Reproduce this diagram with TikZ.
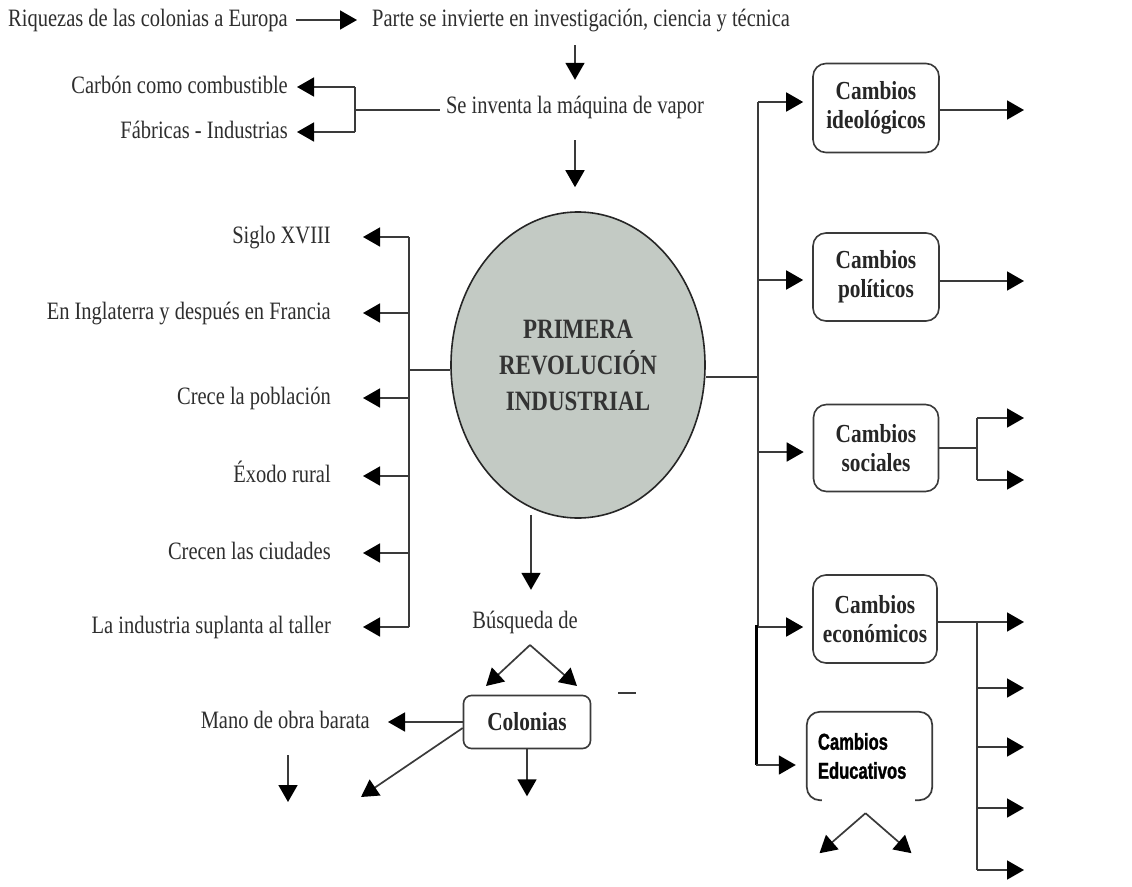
\documentclass[tikz,border=0pt]{standalone}
\usepackage{fontspec}
\setmainfont{Liberation Serif}[FakeStretch=0.82]
\newfontfamily\edufont{Liberation Sans}[FakeStretch=0.72,FakeBold=1.2]
\usetikzlibrary{arrows.meta,shapes.geometric,calc}
\definecolor{txtc}{HTML}{2E2E2E}
\definecolor{linec}{HTML}{3A3A3A}
\definecolor{ellc}{HTML}{C3CAC4}
\begin{document}
\begin{tikzpicture}[x=1pt,y=-1pt,
 txt/.style={font=\fontsize{25}{29}\selectfont, text=txtc, inner sep=0pt, text height=18pt, text depth=6pt},
 ln/.style={draw=linec, line width=1.7pt},
 arr/.style={ln, -{Triangle[length=17pt,width=19pt,fill=black,color=black]}},
 box/.style={draw=linec, line width=1.6pt, rounded corners=13pt, fill=white, align=center,
   font=\bfseries\fontsize{26}{29}\selectfont, text=black!85, inner sep=0pt},
]
\useasboundingbox (0,0) rectangle (1132,886);
\fill[white] (0,0) rectangle (1132,886);

% top
\node[txt, anchor=west] (riq) at (8,20) {Riquezas de las colonias a Europa};
\node[txt, anchor=west] (par) at (372,20) {Parte se invierte en investigación, ciencia y técnica};
\node[txt] (vap) at (575,107) {Se inventa la máquina de vapor};
\node[txt, anchor=east] (carb) at (288,87) {Carbón como combustible};
\node[txt, anchor=east] (fab) at (288,132) {Fábricas - Industrias};

\draw[arr] ([xshift=8pt]riq.east) -- ([xshift=-15pt]par.west);
\draw[arr, shorten <=13pt, shorten >=15pt] (par.south -| vap.north) -- (vap.north);

\coordinate (bk) at (355,110);
\draw[ln] ([xshift=-6pt]vap.west |- bk) -- (bk);
\draw[ln] (bk |- carb.east) -- (bk |- fab.east);
\draw[arr] (bk |- carb.east) -- ([xshift=9pt]carb.east);
\draw[arr] (bk |- fab.east) -- ([xshift=9pt]fab.east);

% central ellipse
\node[ellipse, draw=black!85, line width=1.6pt, fill=ellc, minimum width=254pt, minimum height=306pt,
  inner sep=0pt, align=center, font=\bfseries\fontsize{28}{36}\selectfont, text=black!80]
  (pri) at (578,365) {PRIMERA\\REVOLUCIÓN\\INDUSTRIAL};
\draw[arr, shorten <=21pt, shorten >=24pt] (vap.south) -- (vap.south |- pri.north);

% left list
\coordinate (lb) at (409,370);
\draw[ln] (pri.west |- lb) -- (lb);
\node[txt, anchor=east] (l1) at (331,237) {Siglo XVIII};
\node[txt, anchor=east] (l2) at (331,313) {En Inglaterra y después en Francia};
\node[txt, anchor=east] (l3) at (331,398) {Crece la población};
\node[txt, anchor=east] (l4) at (331,476) {Éxodo rural};
\node[txt, anchor=east] (l5) at (331,553) {Crecen las ciudades};
\node[txt, anchor=east] (l6) at (331,627) {La industria suplanta al taller};
\draw[ln] (lb |- l1.east) -- (lb |- l6.east);
\foreach \n in {l1,l2,l3,l4,l5,l6}
  \draw[arr] (lb |- \n.east) -- ([xshift=32pt]\n.east);

% búsqueda / colonias
\node[txt] (bus) at (525,622) {Búsqueda de};
\draw[arr, shorten >=20pt] ($(bus.north |- pri.south)+(6,-4)$) -- ($(bus.north)+(6,0)$);
\coordinate (ap) at (530,645);
\coordinate (apl) at (486,686);
\coordinate (apr) at (577,686);
\draw[arr] (ap) -- (apl);
\draw[arr] (ap) -- (apr);
\node[box, minimum width=127pt, minimum height=53pt, rounded corners=8pt] (col) at (527,722) {Colonias};
\node[txt, anchor=east] (mano) at (370,722) {Mano de obra barata};
\draw[arr] (col.west) -- ([xshift=18pt]mano.east);
\coordinate (dg) at (361,797);
\draw[arr] ($(col.west)+(0,6)$) -- (dg);
\coordinate (mdtop) at (288,755);
\coordinate (mdend) at (288,802);
\draw[arr] (mdtop) -- (mdend);
\draw[arr] (col.south) -- ++(0,47);
\draw[ln] (618,693) -- (636,693);

% right side
\coordinate (rb) at (758,377);
\draw[ln] (pri.east |- rb) -- (rb);
\node[box, minimum width=126pt, minimum height=89pt] (ideo) at (876,108) {Cambios\\ideológicos};
\node[box, minimum width=126pt, minimum height=88pt] (pol) at (876,277) {Cambios\\políticos};
\node[box, minimum width=125pt, minimum height=87pt] (soc) at (876,448) {Cambios\\sociales};
\node[box, minimum width=124pt, minimum height=88pt] (eco) at (875,619) {Cambios\\económicos};
\node[inner sep=0pt, minimum width=125pt, minimum height=88pt] (edu) at (869.5,756) {};
\node[anchor=west, align=left, inner sep=0pt, font=\edufont\bfseries\fontsize{23}{29}\selectfont]
  (edut) at ($(edu.west)+(11,0)$) {Cambios\\Educativos};
\draw[ln, rounded corners=13pt] ($(edu.south west)+(15,0)$) -- (edu.south west) -- (edu.north west)
  -- (edu.north east) -- (edu.south east) -- ($(edu.south east)+(-17,0)$);

\draw[ln] ($(rb |- ideo.west)+(0,-6)$) -- ($(rb |- eco.west)+(0,8)$);
\draw[arr] ($(rb |- ideo.west)+(0,-6)$) -- ($(ideo.west)+(-9,-6)$);
\draw[arr] ($(rb |- pol.west)+(0,3)$) -- ($(pol.west)+(-9,3)$);
\draw[arr] ($(rb |- soc.west)+(0,4)$) -- ($(soc.west)+(-9,4)$);
\draw[arr] ($(rb |- eco.west)+(0,8)$) -- ($(eco.west)+(-9,8)$);
\draw[draw=black, line width=3pt] ($(rb |- eco.west)+(-2,6)$) -- ($(rb |- edu.west)+(-2,9)$);
\draw[arr] ($(rb |- edu.west)+(-2,9)$) -- ($(edu.west)+(-11,9)$);

\coordinate (ox) at (977,0);
\coordinate (tipx) at (1024,0);
\draw[arr] ($(ideo.east)+(0,2)$) -- ($(tipx |- ideo.east)+(0,2)$);
\draw[arr] ($(pol.east)+(0,4)$) -- ($(tipx |- pol.east)+(0,4)$);
\draw[ln] (soc.east) -- (ox |- soc.east);
\draw[ln] ($(ox |- soc.east)+(0,-30)$) -- ($(ox |- soc.east)+(0,32)$);
\draw[arr] ($(ox |- soc.east)+(0,-30)$) -- ($(tipx |- soc.east)+(0,-30)$);
\draw[arr] ($(ox |- soc.east)+(0,32)$) -- ($(tipx |- soc.east)+(0,32)$);
\draw[arr] ($(eco.east)+(0,3)$) -- ($(tipx |- eco.east)+(0,3)$);
\draw[ln] ($(ox |- eco.east)+(0,3)$) -- ($(ox |- eco.east)+(0,251)$);
\foreach \d in {69,128,189,251}
  \draw[arr] ($(ox |- eco.east)+(0,\d)$) -- ($(tipx |- eco.east)+(0,\d)$);

\coordinate (eap) at ($(edu.south)+(-4,13)$);
\draw[arr] (eap) -- ($(edu.south)+(-50,53)$);
\draw[arr] (eap) -- ($(edu.south)+(42,53)$);
\end{tikzpicture}
\end{document}
